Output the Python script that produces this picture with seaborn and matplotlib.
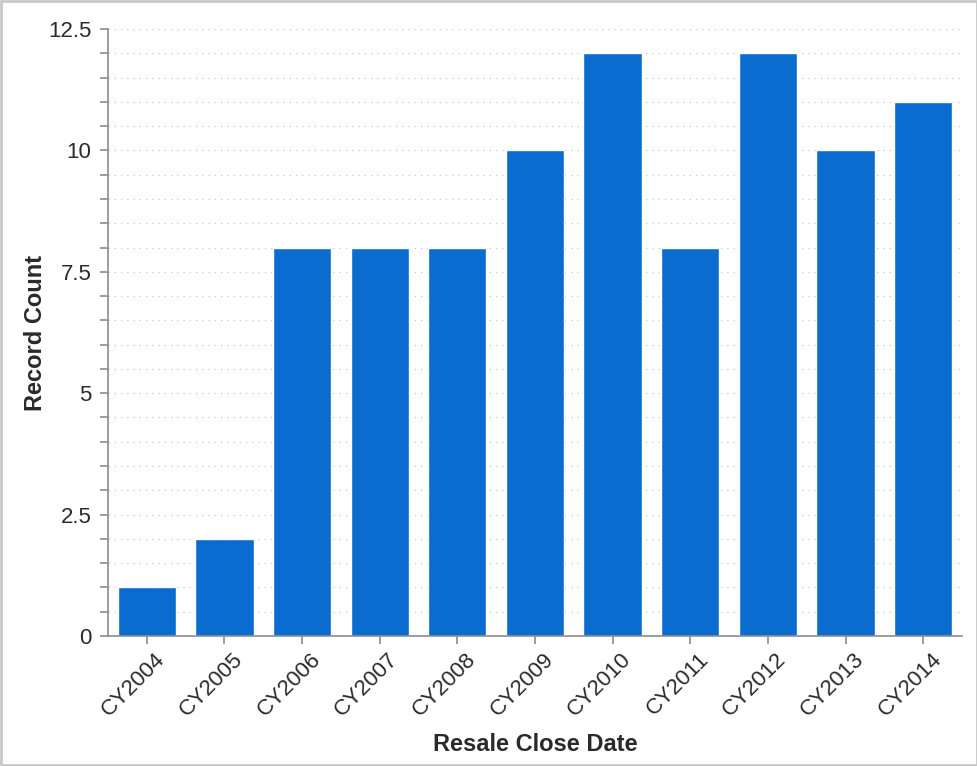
import matplotlib
matplotlib.use("Agg")
import matplotlib.pyplot as plt
import matplotlib.transforms as mtransforms
import seaborn as sns
import pandas as pd
from matplotlib.ticker import MultipleLocator

years = ["CY2004", "CY2005", "CY2006", "CY2007", "CY2008", "CY2009",
         "CY2010", "CY2011", "CY2012", "CY2013", "CY2014"]
counts = [1, 2, 8, 8, 8, 10, 12, 8, 12, 10, 11]
y_ticks = [0, 2.5, 5, 7.5, 10, 12.5]
y_tick_labels = ["0", "2.5", "5", "7.5", "10", "12.5"]

BAR_COLOR = "#0a6ccf"
AXIS_COLOR = "#8c8c8c"
TEXT_COLOR = "#2a2a2a"

sns.set_style("white")
plt.rcParams["font.family"] = ["Liberation Sans", "DejaVu Sans"]

df = pd.DataFrame({"year": years, "count": counts})

fig = plt.figure(figsize=(9.78, 7.66), dpi=100)
ax = fig.add_axes([0.1104, 0.1697, 0.8732, 0.7924])

sns.barplot(data=df, x="year", y="count", color=BAR_COLOR, saturation=1,
            width=0.75, ax=ax)

ax.set_xlim(-0.5, len(years) - 0.5)
ax.set_ylim(0, 12.5)
ax.set_yticks(y_ticks)
ax.set_yticklabels(y_tick_labels)
ax.yaxis.set_minor_locator(MultipleLocator(0.5))
ax.grid(axis="y", which="both", linestyle=(0, (1, 4)), color="#c8c8c8",
        linewidth=0.9)
ax.set_axisbelow(True)

for s in ["top", "right"]:
    ax.spines[s].set_visible(False)
for s in ["left", "bottom"]:
    ax.spines[s].set_color(AXIS_COLOR)
    ax.spines[s].set_linewidth(1.2)

ax.tick_params(axis="both", which="major", direction="out", length=6,
               width=1.2, color=AXIS_COLOR, labelsize=16,
               labelcolor=TEXT_COLOR, bottom=True, left=True)
ax.tick_params(axis="y", which="minor", direction="out", length=6,
               width=1.2, color=AXIS_COLOR, left=True)
ax.tick_params(axis="y", which="major", pad=6)

# rotated year labels, top-right corner just right of the tick
offset = mtransforms.ScaledTranslation(8 / 100, 0, fig.dpi_scale_trans)
for lbl in ax.get_xticklabels():
    lbl.set_rotation(45)
    lbl.set_ha("right")
    lbl.set_va("top")
    lbl.set_rotation_mode("anchor")
    lbl.set_transform(lbl.get_transform() + offset)

ax.set_xlabel("Resale Close Date", fontsize=17, fontweight="bold",
              color=TEXT_COLOR, labelpad=9)
ax.set_ylabel("Record Count", fontsize=17, fontweight="bold",
              color=TEXT_COLOR, labelpad=1)

# light frame around the whole picture
fig.patches.append(plt.Rectangle((0.001, 0.001), 0.998, 0.998,
                                 transform=fig.transFigure, fill=False,
                                 edgecolor="#c8c8c8", linewidth=2))

fig.savefig("out.png", dpi=100)
